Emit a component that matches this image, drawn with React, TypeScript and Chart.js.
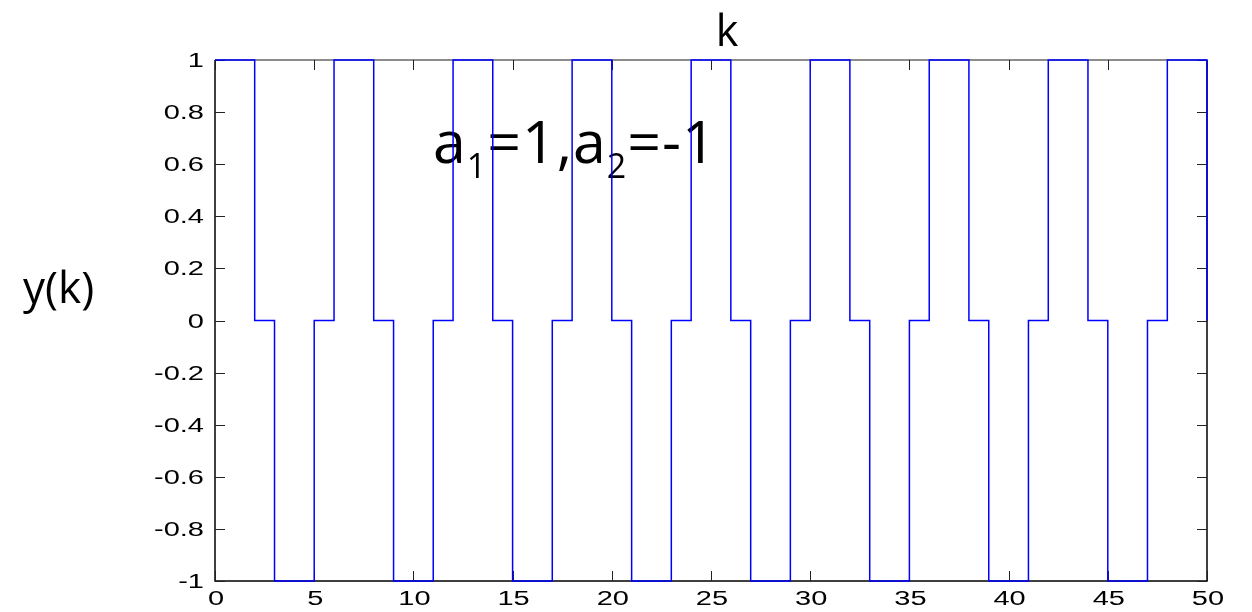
import { useEffect, useRef } from "react";
import { Chart, registerables } from "chart.js";

Chart.register(...registerables);

// Sample index k and the response y(k) of y(k) = a1*y(k-1) + a2*y(k-2)
const kValues = [
  0, 1, 2, 3, 4, 5, 6, 7, 8, 9, 10, 11, 12, 13, 14, 15, 16, 17, 18, 19, 20, 21, 22, 23, 24, 25,
  26, 27, 28, 29, 30, 31, 32, 33, 34, 35, 36, 37, 38, 39, 40, 41, 42, 43, 44, 45, 46, 47, 48, 49, 50,
];
const yValues = [
  1, 1, 0, -1, -1, 0, 1, 1, 0, -1, -1, 0, 1, 1, 0, -1, -1, 0, 1, 1, 0, -1, -1, 0, 1, 1,
  0, -1, -1, 0, 1, 1, 0, -1, -1, 0, 1, 1, 0, -1, -1, 0, 1, 1, 0, -1, -1, 0, 1, 1, 0,
];

const xTickValues = [0, 5, 10, 15, 20, 25, 30, 35, 40, 45, 50];
const xTickLabels = ["0", "5", "10", "15", "20", "25", "30", "35", "40", "45", "50"];
const yTickValues = [-1, -0.8, -0.6, -0.4, -0.2, 0, 0.2, 0.4, 0.6, 0.8, 1];
const yTickLabels = ["-1", "-0.8", "-0.6", "-0.4", "-0.2", "0", "0.2", "0.4", "0.6", "0.8", "1"];

const xAxisTitle = "k";
const yAxisTitle = "y(k)";
// Annotation: pieces of text, subscripts flagged
const annotationParts = [
  { text: "a", sub: false },
  { text: "1", sub: true },
  { text: "=1,a", sub: false },
  { text: "2", sub: true },
  { text: "=-1", sub: false },
];

const TICK_FONT = '20px "Liberation Sans", Arial, sans-serif';
const TICK_STRETCH = 1.45;
const TEXT_FAMILY = '"Open Sans", "Noto Sans", sans-serif';

// Inside-facing box and tick marks, plus the annotation under the trace
const framePlugin = {
  id: "frame",
  beforeDatasetsDraw(chart: any) {
    const { ctx, chartArea } = chart;
    const { left, right, top, bottom } = chartArea;
    const xs = chart.scales.x;
    const ys = chart.scales.y;
    const tickLen = 10;
    ctx.save();
    ctx.lineCap = "butt";

    // box
    ctx.lineWidth = 1.5;
    ctx.strokeStyle = "#666666";
    ctx.beginPath();
    ctx.moveTo(left, top);
    ctx.lineTo(right, top);
    ctx.stroke();
    ctx.strokeStyle = "#000000";
    ctx.beginPath();
    ctx.moveTo(left, top);
    ctx.lineTo(left, bottom);
    ctx.lineTo(right, bottom);
    ctx.lineTo(right, top);
    ctx.stroke();

    // ticks
    ctx.lineWidth = 1;
    ctx.strokeStyle = "#222222";
    ctx.beginPath();
    xTickValues.forEach((v) => {
      const px = Math.round(xs.getPixelForValue(v)) + 0.5;
      ctx.moveTo(px, bottom);
      ctx.lineTo(px, bottom - tickLen);
      ctx.moveTo(px, top);
      ctx.lineTo(px, top + tickLen);
    });
    yTickValues.forEach((v) => {
      const py = Math.round(ys.getPixelForValue(v)) + 0.5;
      ctx.moveTo(left, py);
      ctx.lineTo(left + tickLen, py);
      ctx.moveTo(right, py);
      ctx.lineTo(right - tickLen, py);
    });
    ctx.stroke();

    // annotation with subscripts
    const mainFont = `59px ${TEXT_FAMILY}`;
    const subFont = `34px ${TEXT_FAMILY}`;
    let x = 433;
    const baseline = 163;
    ctx.fillStyle = "#000000";
    ctx.textAlign = "left";
    ctx.textBaseline = "alphabetic";
    (ctx as any).letterSpacing = "1px";
    annotationParts.forEach((p) => {
      ctx.font = p.sub ? subFont : mainFont;
      const y = p.sub ? baseline + 15 : baseline;
      ctx.fillText(p.text, x, y);
      x += ctx.measureText(p.text).width;
    });
    (ctx as any).letterSpacing = "0px";
    ctx.restore();
  },
  afterDraw(chart: any) {
    const { ctx, chartArea } = chart;
    const { left, bottom } = chartArea;
    const xs = chart.scales.x;
    const ys = chart.scales.y;
    ctx.save();
    ctx.fillStyle = "#000000";
    ctx.font = TICK_FONT;
    ctx.textBaseline = "alphabetic";

    // y tick labels, right aligned
    ctx.textAlign = "right";
    yTickValues.forEach((v, i) => {
      const py = ys.getPixelForValue(v);
      ctx.save();
      ctx.translate(left - 11, py + 7);
      ctx.scale(TICK_STRETCH, 1);
      ctx.fillText(yTickLabels[i], 0, 0);
      ctx.restore();
    });

    // x tick labels, centred
    ctx.textAlign = "center";
    xTickValues.forEach((v, i) => {
      const px = xs.getPixelForValue(v);
      ctx.save();
      ctx.translate(px + 1, bottom + 24);
      ctx.scale(TICK_STRETCH, 1);
      ctx.fillText(xTickLabels[i], 0, 0);
      ctx.restore();
    });

    // axis titles
    ctx.font = `43px ${TEXT_FAMILY}`;
    ctx.textAlign = "center";
    ctx.fillText(xAxisTitle, 727, 46);
    ctx.font = `44px ${TEXT_FAMILY}`;
    ctx.textAlign = "left";
    ctx.fillText(yAxisTitle, 23, 303);
    ctx.restore();
  },
};

export default function App() {
  const canvasRef = useRef<HTMLCanvasElement | null>(null);

  useEffect(() => {
    const canvas = canvasRef.current;
    if (!canvas) return;
    const chart = new Chart(canvas, {
      type: "line",
      data: {
        datasets: [
          {
            data: kValues.map((k, i) => ({ x: k, y: yValues[i] })),
            stepped: true,
            borderColor: "#0000ff",
            borderWidth: 1.5,
            pointRadius: 0,
            fill: false,
            clip: 6,
          },
        ],
      },
      options: {
        responsive: false,
        animation: false,
        devicePixelRatio: 1,
        layout: { padding: { left: 0, top: 60, right: 45, bottom: 0 } },
        plugins: {
          legend: { display: false },
          tooltip: { enabled: false },
          title: { display: false },
        },
        scales: {
          x: {
            type: "linear",
            min: 0,
            max: 50,
            grid: { display: false },
            border: { display: false },
            ticks: { display: false },
            afterBuildTicks: (s: any) => {
              s.ticks = xTickValues.map((v) => ({ value: v }));
            },
            afterFit: (s: any) => {
              s.height = 31;
            },
          },
          y: {
            type: "linear",
            min: -1,
            max: 1,
            grid: { display: false },
            border: { display: false },
            ticks: { display: false },
            afterBuildTicks: (s: any) => {
              s.ticks = yTickValues.map((v) => ({ value: v }));
            },
            afterFit: (s: any) => {
              s.width = 215;
            },
          },
        },
      },
      plugins: [framePlugin],
    });
    return () => chart.destroy();
  }, []);

  return (
    <div
      style={{
        position: "fixed",
        left: 0,
        top: 0,
        width: 1252,
        height: 612,
        background: "#ffffff",
      }}
    >
      <canvas ref={canvasRef} width={1252} height={612} />
    </div>
  );
}
